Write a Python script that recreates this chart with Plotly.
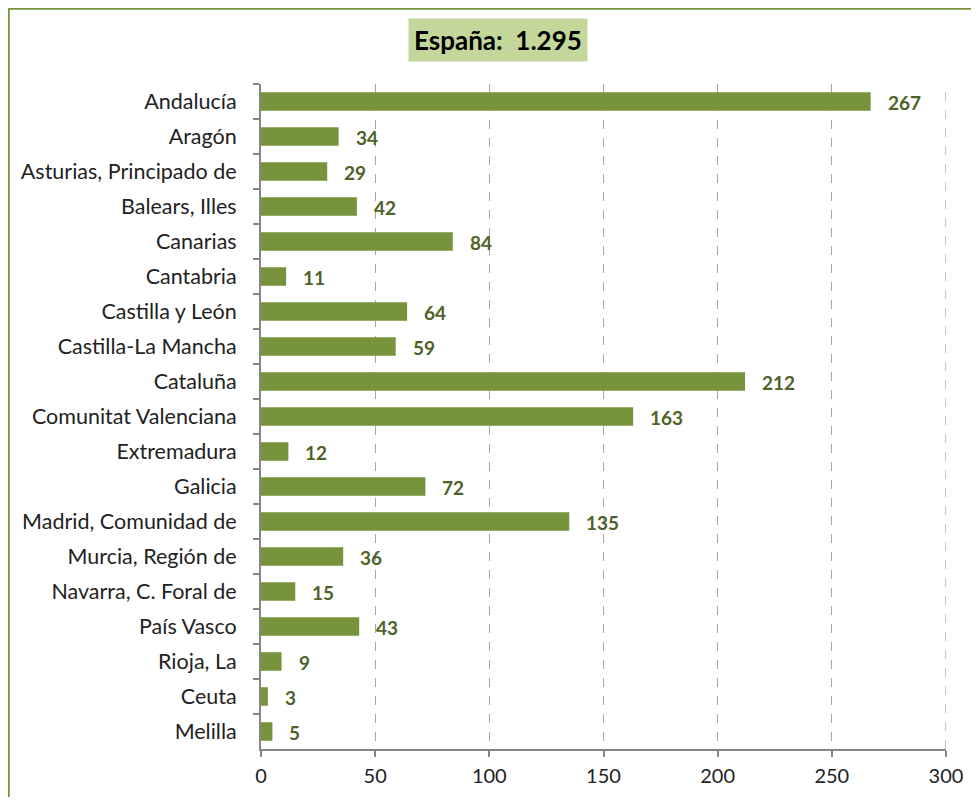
import plotly.graph_objects as go

regions = ["Andalucía", "Aragón", "Asturias, Principado de", "Balears, Illes",
           "Canarias", "Cantabria", "Castilla y León", "Castilla-La Mancha",
           "Cataluña", "Comunitat Valenciana", "Extremadura", "Galicia",
           "Madrid, Comunidad de", "Murcia, Región de", "Navarra, C. Foral de",
           "País Vasco", "Rioja, La", "Ceuta", "Melilla"]
values = [267, 34, 29, 42, 84, 11, 64, 59, 212, 163, 12, 72, 135, 36, 15, 43, 9, 3, 5]
total_label = "España:  1.295"
x_max = 300

FONT = "Lato"
GREEN = "#77933C"
DARK_GREEN = "#4F6228"

# the page adds an 8px body margin, so the figure is sized to fit inside it
W, H = 963, 789
L, R, T, B = 253, 25, 76, 48
pw, ph = W - L - R, H - T - B

fig = go.Figure(go.Bar(
    x=values, y=regions, orientation="h",
    marker=dict(color=GREEN, line=dict(width=0)),
    width=0.53,
))

for r, v in zip(regions, values):
    fig.add_annotation(x=v, y=r, xref="x", yref="y", text=str(v),
                       showarrow=False, xanchor="left", xshift=15, yshift=-1,
                       font=dict(family=FONT, size=19, color=DARK_GREEN, weight="bold"))

fig.add_annotation(x=(490 - L) / pw, y=1 + (T - 32) / ph, xref="paper", yref="paper",
                   xanchor="center", yanchor="middle",
                   text="<b>" + total_label + "</b>", showarrow=False,
                   bgcolor="#C4D79B", borderpad=5,
                   font=dict(family=FONT, size=26, color="black"))

# gridline at the right edge of the range (plotly skips it)
fig.add_shape(type="line", xref="x", yref="paper", x0=x_max, x1=x_max, y0=0, y1=1,
              line=dict(color="#A6A6A6", width=1.3, dash="dash"), layer="below")

# outer frame (top and left edges visible)
x_left = (0.5 - L) / pw
y_top = 1 + (T - 0.5) / ph
fig.add_shape(type="line", xref="paper", yref="paper", x0=x_left, x1=1.2,
              y0=y_top, y1=y_top, line=dict(color=GREEN, width=2.5))
fig.add_shape(type="line", xref="paper", yref="paper", x0=x_left, x1=x_left,
              y0=y_top, y1=-0.2, line=dict(color=GREEN, width=2.5))

fig.update_layout(
    width=W, height=H,
    margin=dict(l=L, r=R, t=T, b=B),
    plot_bgcolor="white", paper_bgcolor="white",
    showlegend=False,
    font=dict(family=FONT, size=21.5, color="#222"),
    xaxis=dict(range=[0, x_max], dtick=50, showgrid=True, gridcolor="#A6A6A6",
               griddash="dash", gridwidth=1.3, zeroline=False, automargin=False,
               showline=True, linecolor="#868686", linewidth=2,
               ticks="outside", ticklen=6, tickcolor="#868686", tickwidth=1.5,
               tickfont=dict(family=FONT, size=20, color="#222"), ticklabelstandoff=2),
    yaxis=dict(autorange="reversed", showline=True, linecolor="#868686", linewidth=2,
               ticks="outside", ticklen=6, tickcolor="#868686", tickwidth=1.5,
               tickson="boundaries", showgrid=False, automargin=False,
               tickfont=dict(family=FONT, size=21.5, color="#222"), ticklabelstandoff=18),
)

fig.write_html("out.html")
